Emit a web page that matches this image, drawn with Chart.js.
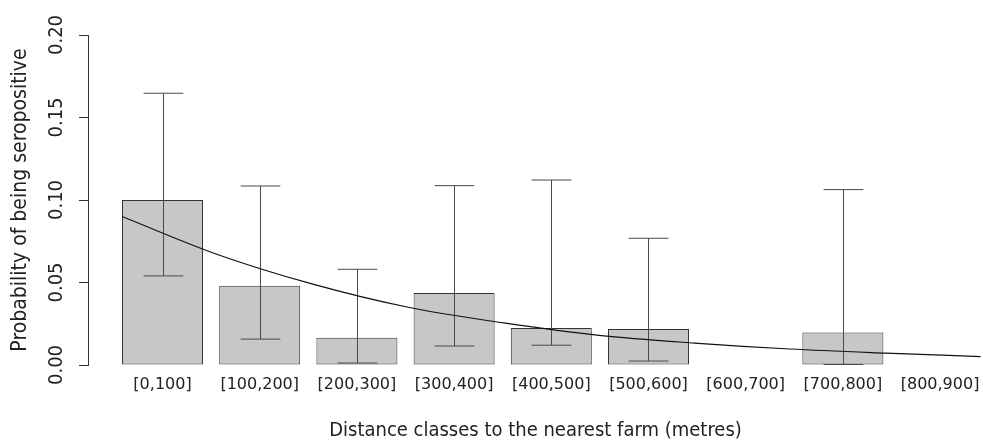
<!DOCTYPE html>
<html>
<head>
<meta charset="utf-8">
<script src="https://cdn.jsdelivr.net/npm/chart.js@4"></script>
<style>
  html, body { margin: 0; padding: 0; background: #fff; overflow: hidden; }
  #wrap { width: 983px; height: 441px; }
</style>
</head>
<body>
<div id="wrap"><canvas id="sero" width="983" height="441"></canvas></div>
<script>
const classes = ["[0,100]", "[100,200]", "[200,300]", "[300,400]", "[400,500]",
                 "[500,600]", "[600,700]", "[700,800]", "[800,900]"];
const prevalence = [0.100, 0.048, 0.0165, 0.0437, 0.0225, 0.0218, null, 0.0197, null];
const ciLower = [0.054, 0.0157, 0.0012, 0.0115, 0.0120, 0.0024, null, 0.0003, null];
const ciUpper = [0.1647, 0.1085, 0.0580, 0.1087, 0.1121, 0.0768, null, 0.1063, null];

// fitted curve, distance in metres vs probability
const fitDistance = [0, 100, 200, 300, 400, 500, 600, 700, 800, 900];
const fitProbability = [0.090, 0.067, 0.049, 0.035, 0.0255, 0.018, 0.0133, 0.0097, 0.0072, 0.0051];

const yTicks = [0, 0.05, 0.10, 0.15, 0.20];

// barplot-style positions: width 1, gap 0.2
const barPos = classes.map((c, i) => 0.7 + 1.2 * i);
const xMin = -0.22, xMax = 10.83;
// metres axis lined up so 0 m sits on the left edge of the first bar, 900 m on the right of the last
const mPerUnit = 900 / 10.6;
const mMin = (xMin - 0.2) * mPerUnit, mMax = (xMax - 0.2) * mPerUnit;

const ink = "#222";
const condensed = "'DejaVu Sans Condensed', 'DejaVu Sans', sans-serif";

const errorBars = {
    id: "errorBars",
    afterDatasetDraw(chart, args) {
        if (args.index !== 0) return;
        const ctx = chart.ctx;
        const y = chart.scales.y;
        const meta = chart.getDatasetMeta(0);
        ctx.save();
        ctx.strokeStyle = "#4a4a4a";
        ctx.lineWidth = 1;
        meta.data.forEach((bar, i) => {
            if (ciLower[i] == null) return;
            const x = Math.round(bar.x) + 0.5;
            const half = bar.width * 0.245;
            const top = y.getPixelForValue(ciUpper[i]);
            const bot = y.getPixelForValue(ciLower[i]);
            ctx.beginPath();
            ctx.moveTo(x, top); ctx.lineTo(x, bot);
            ctx.moveTo(x - half, top); ctx.lineTo(x + half, top);
            ctx.moveTo(x - half, bot); ctx.lineTo(x + half, bot);
            ctx.stroke();
        });
        ctx.restore();
    }
};

const ctx = document.getElementById("sero").getContext("2d");
new Chart(ctx, {
    type: "bar",
    data: {
        datasets: [{
            type: "bar",
            data: barPos.map((p, i) => ({ x: p, y: prevalence[i] })),
            backgroundColor: "#c6c7c9",
            borderColor: "#333",
            borderWidth: 1,
            borderSkipped: false,
            grouped: false,
            barPercentage: 1,
            categoryPercentage: 1 / 1.2,
            xAxisID: "x",
            order: 2
        }, {
            type: "line",
            data: fitDistance.map((d, i) => ({ x: d, y: fitProbability[i] })),
            borderColor: "#111",
            borderWidth: 1.2,
            pointRadius: 0,
            fill: false,
            cubicInterpolationMode: "monotone",
            xAxisID: "xm",
            order: 1
        }]
    },
    options: {
        responsive: false,
        animation: false,
        layout: { padding: { top: 35, right: 0, bottom: 0, left: 0 } },
        plugins: { legend: { display: false }, tooltip: { enabled: false } },
        scales: {
            x: {
                type: "linear",
                offset: false,
                min: xMin,
                max: xMax,
                afterBuildTicks: axis => { axis.ticks = barPos.map(v => ({ value: v })); },
                afterFit: axis => {
                    axis.height = 76;
                    axis.paddingLeft = 0;
                    axis.paddingRight = 0;
                },
                grid: { display: false, offset: false },
                border: { display: false },
                ticks: {
                    autoSkip: false,
                    maxRotation: 0,
                    padding: 2,
                    color: ink,
                    font: { family: "'DejaVu Sans', sans-serif", size: 16 },
                    callback: (v, i) => classes[i]
                },
                title: {
                    display: true,
                    text: "Distance classes to the nearest farm (metres)",
                    color: ink,
                    font: { family: condensed, size: 20, lineHeight: 1 },
                    padding: { top: 0, bottom: 0 }
                }
            },
            xm: {
                type: "linear",
                axis: "x",
                offset: false,
                display: false,
                min: mMin,
                max: mMax,
                afterFit: axis => { axis.paddingLeft = 0; axis.paddingRight = 0; }
            },
            y: {
                min: 0,
                max: 0.2,
                afterBuildTicks: axis => { axis.ticks = yTicks.map(v => ({ value: v })); },
                afterFit: axis => { axis.width = 88; },
                grid: {
                    drawOnChartArea: false,
                    drawTicks: true,
                    tickLength: 9,
                    color: "#333",
                    lineWidth: 1
                },
                border: { display: true, color: "#333", width: 1 },
                ticks: {
                    minRotation: 90,
                    maxRotation: 90,
                    crossAlign: "center",
                    padding: 2,
                    color: ink,
                    font: { family: condensed, size: 20 },
                    callback: v => v.toFixed(2)
                },
                title: {
                    display: true,
                    text: "Probability of being seropositive",
                    color: ink,
                    font: { family: condensed, size: 21, lineHeight: 1 },
                    padding: { top: 10, bottom: 0 }
                }
            }
        }
    },
    plugins: [errorBars]
});
</script>
</body>
</html>
